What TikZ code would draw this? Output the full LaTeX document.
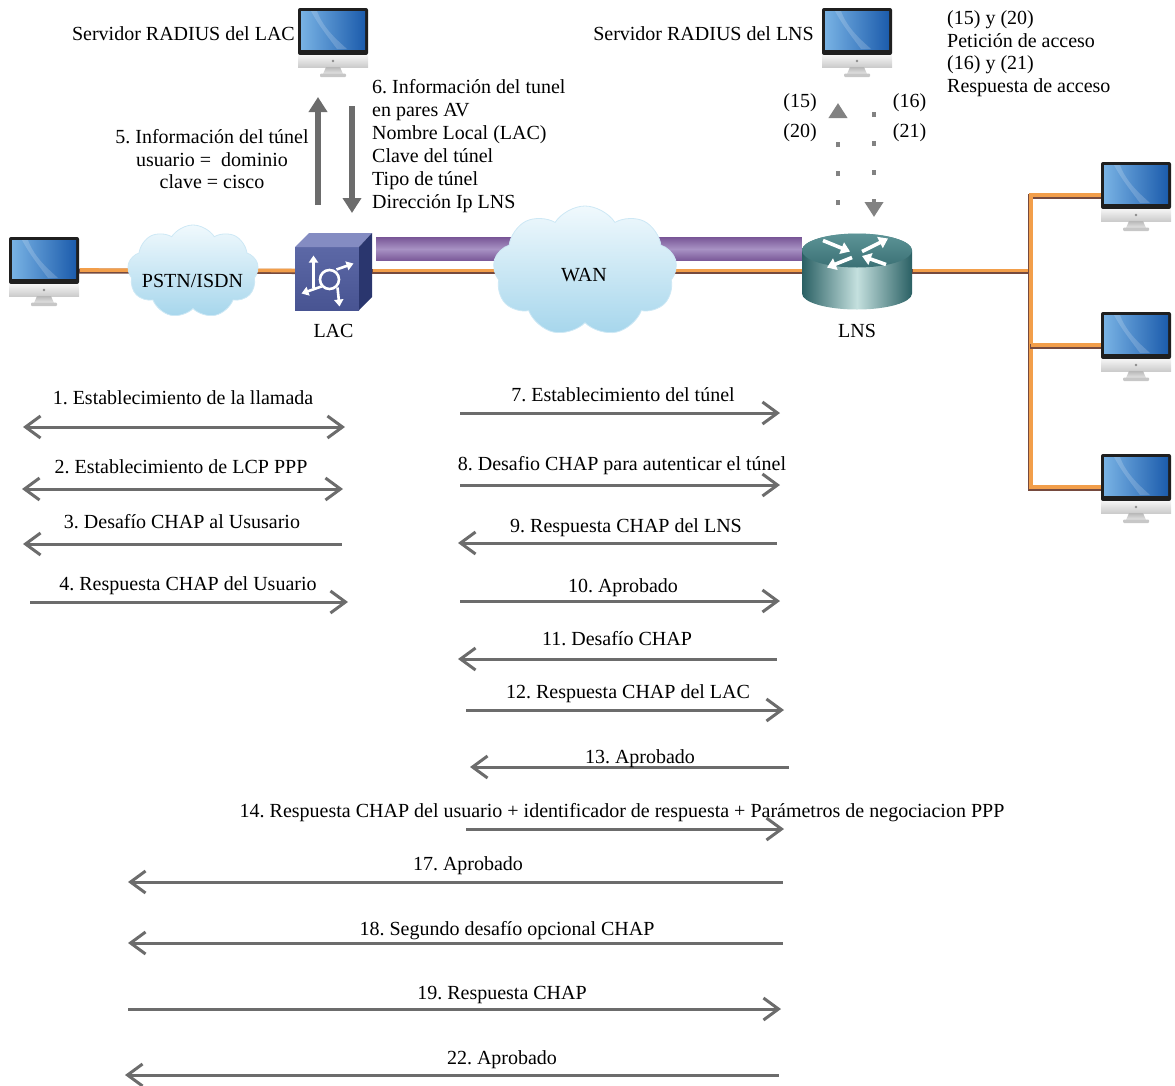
\documentclass[tikz,border=0pt]{standalone}
\usepackage{fontspec}
\setmainfont{Liberation Serif}
\frenchspacing
\usetikzlibrary{arrows.meta}
\usetikzlibrary{positioning,shapes,calc}

\definecolor{msggray}{RGB}{108,108,108}
\definecolor{cableorange}{RGB}{242,158,74}
\definecolor{cablebrown}{RGB}{118,74,62}
\definecolor{tunnelA}{RGB}{122,88,152}
\definecolor{tunnelB}{RGB}{168,146,196}
\definecolor{cloudtop}{RGB}{240,249,253}
\definecolor{cloudbot}{RGB}{166,214,236}
\definecolor{cloudedge}{RGB}{205,232,245}
\definecolor{scrA}{RGB}{120,178,228}
\definecolor{scrB}{RGB}{28,92,172}
\definecolor{swfront}{RGB}{92,104,166}
\definecolor{swfrontB}{RGB}{72,84,146}
\definecolor{swtop}{RGB}{132,140,194}
\definecolor{swside}{RGB}{42,54,110}
\definecolor{rtdark}{RGB}{42,96,100}
\definecolor{rtlight}{RGB}{196,224,222}
\definecolor{rttop}{RGB}{92,148,150}
\definecolor{rttopB}{RGB}{58,112,116}

\tikzset{lbl/.style={font=\fontsize{20}{23}\selectfont, inner sep=0pt},
		pc/.style={inner sep=0pt, minimum width=70pt, minimum height=68pt},
		devbox/.style={inner sep=0pt, minimum width=77pt, minimum height=77pt},
		rtbox/.style={inner sep=0pt, minimum width=110pt, minimum height=77pt},
		cloudy/.style={cloud, cloud puffs=9, cloud puff arc=115, aspect=1.45, inner sep=0pt,
		               draw=cloudedge, line width=.8pt, top color=cloudtop, bottom color=cloudbot},
		cable/.style={draw=cablebrown, line width=5pt,
		              postaction={draw=cableorange, line width=3.6pt, transform canvas={shift={(1pt,1pt)}}}},
		msg/.style={draw=msggray, line width=3pt, >={Straight Barb[length=15pt,width=22pt]}},
		twoway/.style={<->},
		rightward/.style={->},
		leftward/.style={<-},
		bigarrow/.style={draw=msggray, line width=6.5pt, -{Triangle[length=15pt,width=18pt]}},
		radq/.style={draw=msggray!85, line width=4pt, dash pattern=on 5pt off 24pt, -{Triangle[length=15pt,width=18pt]}},
		monitor/.pic={
			\fill[black!88, rounded corners=2pt] (-35,-34) rectangle (35,13);
			\shade[left color=scrA, right color=scrB] (-32,-31) rectangle (32,7);
			\fill[white, opacity=.18] (-16,-31) .. controls (-10,-14) and (4,-2) .. (14,7) -- (4,7) .. controls (-4,-4) and (-14,-16) .. (-22,-31) -- cycle;
			\shade[top color=black!4, bottom color=black!20] (-35,13) rectangle (35,25);
			\fill[black!45] (0,19) circle (1.3pt);
			\shade[top color=black!28, bottom color=black!10] (-7,25) -- (7,25) -- (10,32) -- (-10,32) -- cycle;
			\fill[black!22, rounded corners=1pt] (-13,31.5) rectangle (13,35);
		},
		switchcube/.pic={
			\shade[top color=swfront, bottom color=swfrontB] (-38.5,-24.5) rectangle (25.5,38.5);
			\fill[swtop] (-38.5,-24.5) -- (-24.5,-38.5) -- (38.5,-38.5) -- (25.5,-24.5) -- cycle;
			\fill[swside] (25.5,-24.5) -- (38.5,-38.5) -- (38.5,25.5) -- (25.5,38.5) -- cycle;
			\begin{scope}[white, line width=2.6pt]
				\draw (-4,8) circle (9.5pt);
				\draw[-{Triangle[length=7pt,width=9pt]}] (-20,16) -- (-20,-16);
				\draw[-{Triangle[length=7pt,width=9pt]}] (3,-2) -- (20,-8);
				\draw[-{Triangle[length=7pt,width=9pt]}] (-12,15) -- (-32,22);
				\draw[-{Triangle[length=7pt,width=9pt]}] (4,16) -- (6,35);
			\end{scope}
		},
		router/.pic={
			\shade[left color=rtdark, right color=rtdark, middle color=rtlight] (-55,-21) -- (-55,22) arc (180:0:55 and 16) -- (55,-21) arc (0:-180:55 and 17) -- cycle;
			\shade[top color=rttop, bottom color=rttopB] (0,-21) ellipse (55 and 17);
			\begin{scope}[white, line width=3.6pt, -{Triangle[length=9pt,width=12pt]}]
				\draw (-34,-31) -- (-7,-20);
				\draw (5,-20) -- (31,-33);
				\draw (-5,-14) -- (-30,-4);
				\draw (29,-7) -- (5,-15.5);
			\end{scope}
		}}

\begin{document}
\begin{tikzpicture}[x=1pt,y=-1pt]
	\useasboundingbox (0,0) rectangle (1175,1085);
	% hosts, servers and the two access devices
	\foreach \p/\px/\py in {user/44/271, radlac/333/42, radlns/857/42, pc1/1136/196, pc2/1136/346, pc3/1136/488}
		\node[pc] (\p) at (\px,\py) {};
	\node[devbox] (lac) at (333.5,271.5) {};
	\node[rtbox] (lns) at (857,271.5) {};
	\coordinate (hub) at (1030,271.5);
	%cables
	\draw[cable] (user.east) -- (lac.west);
	\draw[cable] (lac.east) -- (lns.west);
	\draw[cable] (lns.east) -- (hub);
	\draw[cable] (pc1.west) -| (hub |- pc3.west) -- (pc3.west);
	\draw[cable] (pc2.west) -- (hub |- pc2.west);
	% L2TP tunnel
	\shade[top color=tunnelA, bottom color=tunnelA, middle color=tunnelB] ($(lac.east)+(4,-34)$) rectangle ($(lns.west)+(0,-11)$);
	%clouds
	\node[cloudy, minimum width=131pt, minimum height=93pt] (pstn) at (193,271.5) {};
	\node[cloudy, minimum width=184pt, minimum height=130pt] (wan) at (585,271) {};
	\node[lbl, anchor=base] (pstnlbl) at (192.5,287) {PSTN/ISDN};
	\node[lbl, anchor=base] (wanlbl) at (584,281) {WAN};
	%icons
	\foreach \p in {user,radlac,radlns,pc1,pc2,pc3}
		\pic at (\p) {monitor};
	\pic at (lac) {switchcube};
	\pic at (lns) {router};
	\node[lbl, below=14pt of lac] (laclbl) {LAC};
	\node[lbl, below=14pt of lns] (lnslbl) {LNS};
	\node[lbl, anchor=base east] (radlactxt) at (295,40.5) {Servidor RADIUS del LAC};
	\node[lbl, anchor=base east] (radlnstxt) at (814,40.5) {Servidor RADIUS del LNS};
	% LAC <-> its RADIUS server
	\coordinate (q5a) at (318,205);
	\coordinate (q5b) at (318,97);
	\coordinate (q6a) at (352,106);
	\coordinate (q6b) at (352,213);
	\draw[bigarrow] (q5a) -- (q5b);
	\draw[bigarrow] (q6a) -- (q6b);
	% (base of a multi-line node = its last line)
	\node[lbl, align=center, anchor=base, font=\fontsize{20}{22.5}\selectfont] (info5) at (212,188.5)
		{5. Información del túnel\\usuario = \ dominio\\clave = cisco};
	\node[lbl, align=left, anchor=base west] (info6) at (372,208)
		{6. Información del tunel\\en pares AV\\Nombre Local (LAC)\\Clave del túnel\\Tipo de túnel\\Dirección Ip LNS};
	% LNS <-> its RADIUS server
	\coordinate (q15a) at (838,205);
	\coordinate (q15b) at (838,103);
	\coordinate (q16a) at (874,112);
	\coordinate (q16b) at (874,217);
	\draw[radq] (q15a) -- (q15b);
	\draw[radq] (q16a) -- (q16b);
	\node[lbl, anchor=base] (n15) at (800,107) {(15)};
	\node[lbl, anchor=base] (n20) at (800,137) {(20)};
	\node[lbl, anchor=base] (n16) at (909.5,107) {(16)};
	\node[lbl, anchor=base] (n21) at (909.5,137) {(21)};
	\node[lbl, align=left, anchor=base west, font=\fontsize{20}{22.5}\selectfont] (radinfo) at (947,92)
		{(15) y (20)\\Petición de acceso\\(16) y (21)\\Respuesta de acceso};
	% message sequence
	\foreach \n/\xa/\xb/\y/\dir/\lx/\ly/\txt in {
		1/23/345/427/twoway/183/404/{1. Establecimiento de la llamada},
		2/22/343/489/twoway/181/473/{2. Establecimiento de LCP PPP},
		3/23/342/544/leftward/182/528/{3. Desafío CHAP al Ususario},
		4/30/348/602/rightward/188/590/{4. Respuesta CHAP del Usuario},
		7/460/780/413/rightward/623/401/{7. Establecimiento del túnel},
		8/460/780/485/rightward/622/470/{8. Desafio CHAP para autenticar el túnel},
		9/458/777/543/leftward/626/532/{9. Respuesta CHAP del LNS},
		10/460/780/601/rightward/623/592/{10. Aprobado},
		11/458/777/659/leftward/617/645/{11. Desafío CHAP},
		12/466/784/710/rightward/628/698/{12. Respuesta CHAP del LAC},
		13/470/789/767/leftward/640/763/{13. Aprobado},
		14/466/784/829/rightward/622/817/{14. Respuesta CHAP del usuario + identificador de respuesta + Parámetros de negociacion PPP},
		17/128/783/882/leftward/468/870/{17. Aprobado},
		18/128/783/943/leftward/507/935/{18. Segundo desafío opcional CHAP},
		19/128/781/1009/rightward/502/999/{19. Respuesta CHAP},
		22/125/779/1075/leftward/502/1064/{22. Aprobado}}{
		\coordinate (m\n-a) at (\xa,\y);
		\coordinate (m\n-b) at (\xb,\y);
		\draw[msg,\dir] (m\n-a) -- (m\n-b);
		\node[lbl, anchor=base] (t\n) at (\lx,\ly) {\txt};
	}
\end{tikzpicture}
\end{document}
